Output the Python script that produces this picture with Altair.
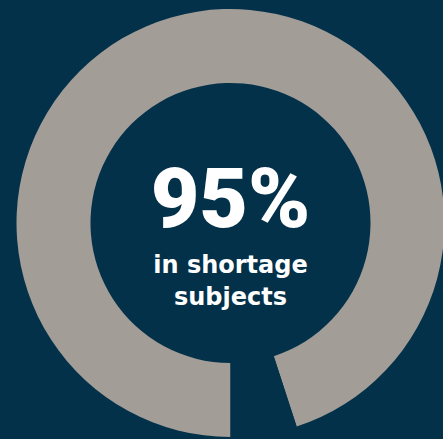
import math
import altair as alt
import pandas as pd

# data
segments = ["In shortage subjects", "Other"]
shares = [95, 5]
order_idx = [0, 1]
seg_colors = ["#a29d97", "#03314a"]

big_label = ["95%"]
sub_lines = ["in shortage", "subjects"]

BG = "#03314a"
CX, CY = 230.5, 223

ring_df = pd.DataFrame({"segment": segments, "share": shares, "idx": order_idx})

ring = alt.Chart(ring_df).mark_arc(innerRadius=140, outerRadius=214, stroke=None).encode(
    theta=alt.Theta("share:Q", stack=True,
                    scale=alt.Scale(domain=[0, 100], range=[math.pi, 3 * math.pi])),
    order=alt.Order("idx:Q"),
    color=alt.Color("segment:N", scale=alt.Scale(domain=segments, range=seg_colors), legend=None),
    x=alt.value(CX),
    y=alt.value(CY),
)

big = alt.Chart(pd.DataFrame({"t": big_label})).mark_text(
    font="Roboto", fontWeight=900, fontSize=84, color="white",
    align="center", baseline="alphabetic"
).encode(text="t:N", x=alt.value(CX), y=alt.value(227))

sub_df = pd.DataFrame({"t": sub_lines, "yy": [273, 305]})
sub = alt.Chart(sub_df).mark_text(
    font="DejaVu Sans", fontWeight="bold", fontSize=24, color="white",
    align="center", baseline="alphabetic"
).encode(text="t:N", x=alt.value(CX), y=alt.Y("yy:Q", scale=None))

chart = alt.layer(ring, big, sub).properties(
    width=443, height=439, background=BG, padding=0,
    autosize=alt.AutoSizeParams(type="none"),
).configure_view(stroke=None)

chart.save("out.html", embed_options={"renderer": "svg", "actions": False})
